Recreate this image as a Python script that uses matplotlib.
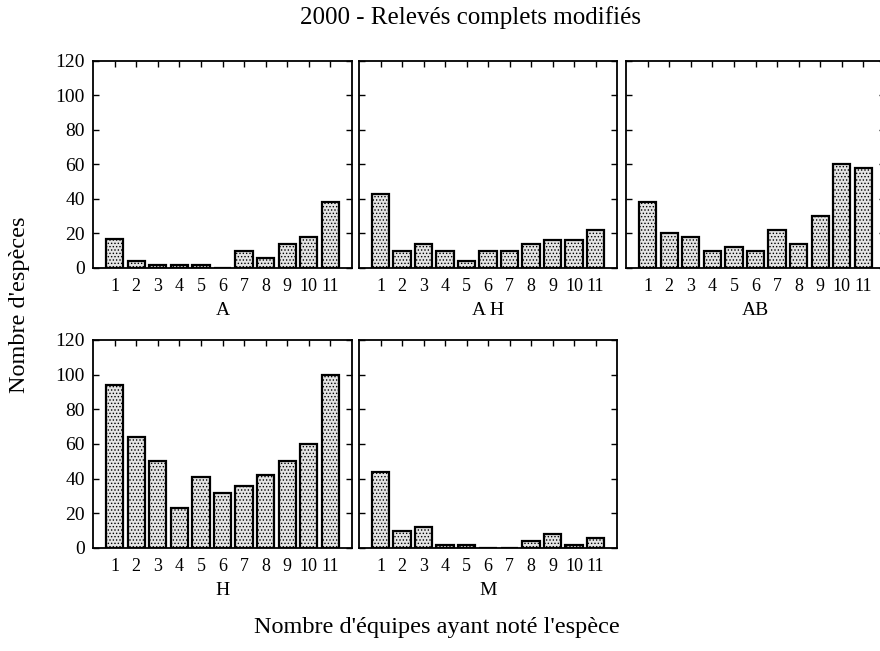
import numpy as np
import matplotlib
matplotlib.use('Agg')
import matplotlib.pyplot as plt

plt.rcParams['font.family'] = ['Liberation Serif', 'DejaVu Serif']
plt.rcParams['hatch.linewidth'] = 0.6
plt.rcParams['hatch.color'] = '#6e6e6e'

# Nombre d'equipes (1 a 11) et nombre d'especes par categorie
equipes = np.arange(1, 12)
noms = ['A', 'A H', 'AB', 'H', 'M']
A  = [17, 4, 2, 2, 2, 0, 10, 6, 14, 18, 38]
AH = [43, 10, 14, 10, 4, 10, 10, 14, 16, 16, 22]
AB = [38, 20, 18, 10, 12, 10, 22, 14, 30, 60, 58]
H  = [94, 64, 50, 23, 41, 32, 36, 42, 50, 60, 100]
M  = [44, 10, 12, 2, 2, 0, 0, 4, 8, 2, 6]
series = [A, AH, AB, H, M]

fig = plt.figure(figsize=(8.8, 6.51), dpi=100)
W, Hf = 880.0, 651.0

# position des cadres en pixels: (gauche, haut, droite, bas)
cadres = [(93, 61, 352, 268), (359, 61, 617, 268), (626, 61, 885, 268),
          (93, 340, 352, 548), (359, 340, 617, 548)]

for i, (nom, vals) in enumerate(zip(noms, series)):
    g, h, d, b = cadres[i]
    ax = fig.add_axes([g / W, 1 - b / Hf, (d - g) / W, (b - h) / Hf])
    ax.bar(equipes, vals, width=0.8, facecolor='#e4e4e4', edgecolor='black',
           linewidth=1.6, hatch='.....')
    ax.set_xlim(0, 12)
    ax.set_ylim(0, 120)
    ax.set_yticks(np.arange(0, 121, 20))
    ax.set_xticks(equipes)
    ax.set_xticklabels([str(e) for e in equipes], fontsize=13)
    ax.tick_params(axis='x', direction='in', top=True, bottom=False,
                   length=4, width=1, pad=7)
    ax.tick_params(axis='y', direction='in', left=True, right=True,
                   length=4, width=1, labelsize=14, pad=6)
    if i not in (0, 3):
        ax.set_yticklabels([])
    for s in ax.spines.values():
        s.set_linewidth(1.3)
    ax.set_xlabel(nom, fontsize=14, labelpad=5)

fig.text(470 / W, 1 - 18 / Hf, '2000 - Relevés complets modifiés',
         ha='center', va='center', fontsize=18)
fig.text(19 / W, 1 - 305 / Hf, "Nombre d'espèces", rotation=90,
         ha='center', va='center', fontsize=17.5)
fig.text(437 / W, 1 - 628 / Hf, "Nombre d'équipes ayant noté l'espèce",
         ha='center', va='center', fontsize=17.5)

plt.savefig('out.png', dpi=100)
